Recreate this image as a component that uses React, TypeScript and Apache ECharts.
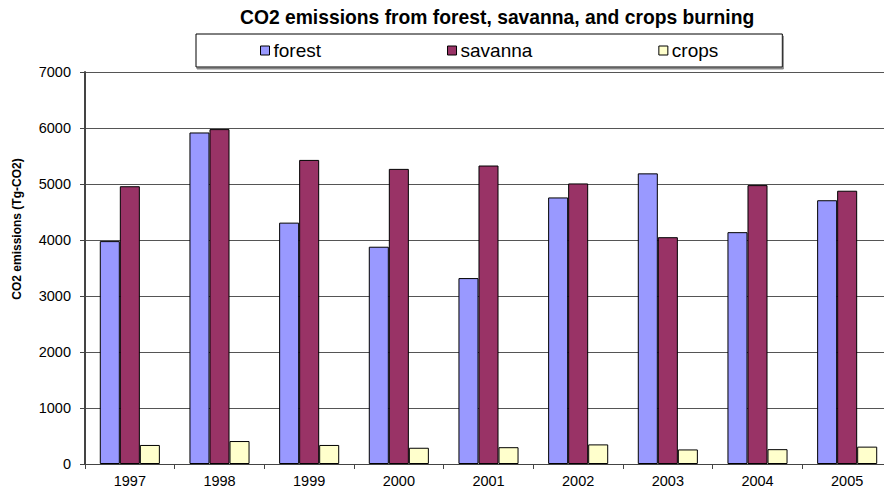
import React, { useEffect, useRef } from "react";
import * as echarts from "echarts";

const years = ["1997", "1998", "1999", "2000", "2001", "2002", "2003", "2004", "2005"];
const forest = [3980, 5920, 4310, 3880, 3320, 4760, 5190, 4140, 4710];
const savanna = [4960, 5980, 5430, 5270, 5330, 5010, 4050, 4980, 4880];
const crops = [340, 410, 340, 290, 300, 350, 260, 265, 310];
const seriesNames = ["forest", "savanna", "crops"];
const seriesColors = ["#9999FF", "#993366", "#FFFFCC"];
const titleText = "CO2 emissions from forest, savanna, and crops burning";
const yName = "CO2 emissions (Tg-CO2)";

const FONT = "'Liberation Sans', Arial, sans-serif";

export default function App() {
  const ref = useRef<HTMLDivElement>(null);
  useEffect(() => {
    if (!ref.current) return;
    const chart = echarts.init(ref.current, undefined, { renderer: "svg" });
    const data = [forest, savanna, crops];
    chart.setOption({
      animation: false,
      backgroundColor: "#ffffff",
      title: {
        text: titleText,
        left: 235,
        top: 3,
        textStyle: { fontFamily: FONT, fontWeight: "bold", fontSize: 19.3, color: "#000" },
      },
      legend: {
        data: seriesNames,
        left: 196,
        top: 34,
        padding: [7, 64, 7, 64],
        itemGap: 126,
        itemWidth: 9,
        itemHeight: 9,
        icon: "rect",
        borderColor: "#000",
        borderWidth: 1,
        shadowColor: "#888",
        shadowOffsetX: 1,
        shadowOffsetY: 2,
        shadowBlur: 0,
        backgroundColor: "#fff",
        itemStyle: { borderColor: "#000", borderWidth: 1 },
        textStyle: { fontFamily: FONT, fontSize: 19, color: "#000", padding: [0, 0, 0, -1] },
      },
      grid: { left: 85, right: -9, top: 72, bottom: 30, containLabel: false },
      xAxis: {
        type: "category",
        data: years,
        axisLine: { lineStyle: { color: "#444", width: 1 } },
        axisTick: { show: true, length: 5, lineStyle: { color: "#444" } },
        axisLabel: { fontFamily: FONT, fontSize: 14.5, color: "#000", margin: 9 },
      },
      yAxis: {
        type: "value",
        min: 0,
        max: 7000,
        interval: 1000,
        axisLine: { show: true, lineStyle: { color: "#444", width: 2 } },
        axisTick: { show: true, length: 5, lineStyle: { color: "#444" } },
        splitLine: { show: true, lineStyle: { color: "#555", width: 1 } },
        axisLabel: {
          fontFamily: FONT,
          fontSize: 14.5,
          color: "#000",
          margin: 14,
          formatter: (v: number) => String(v),
        },
      },
      graphic: [
        {
          type: "text",
          x: 17,
          y: 229,
          rotation: Math.PI / 2,
          style: {
            text: yName,
            align: "center",
            verticalAlign: "middle",
            font: `bold 12px ${FONT}`,
            fill: "#000",
          },
        },
      ],
      series: seriesNames.map((name, i) => ({
        name,
        type: "bar",
        data: data[i],
        barGap: "0%",
        barCategoryGap: "33%",
        itemStyle: {
          color: seriesColors[i],
          borderColor: "#000",
          borderWidth: 1,
        },
        emphasis: { disabled: true },
      })),
    });
    return () => chart.dispose();
  }, []);
  return <div ref={ref} style={{ width: 892, height: 494, margin: -8 }} />;
}
